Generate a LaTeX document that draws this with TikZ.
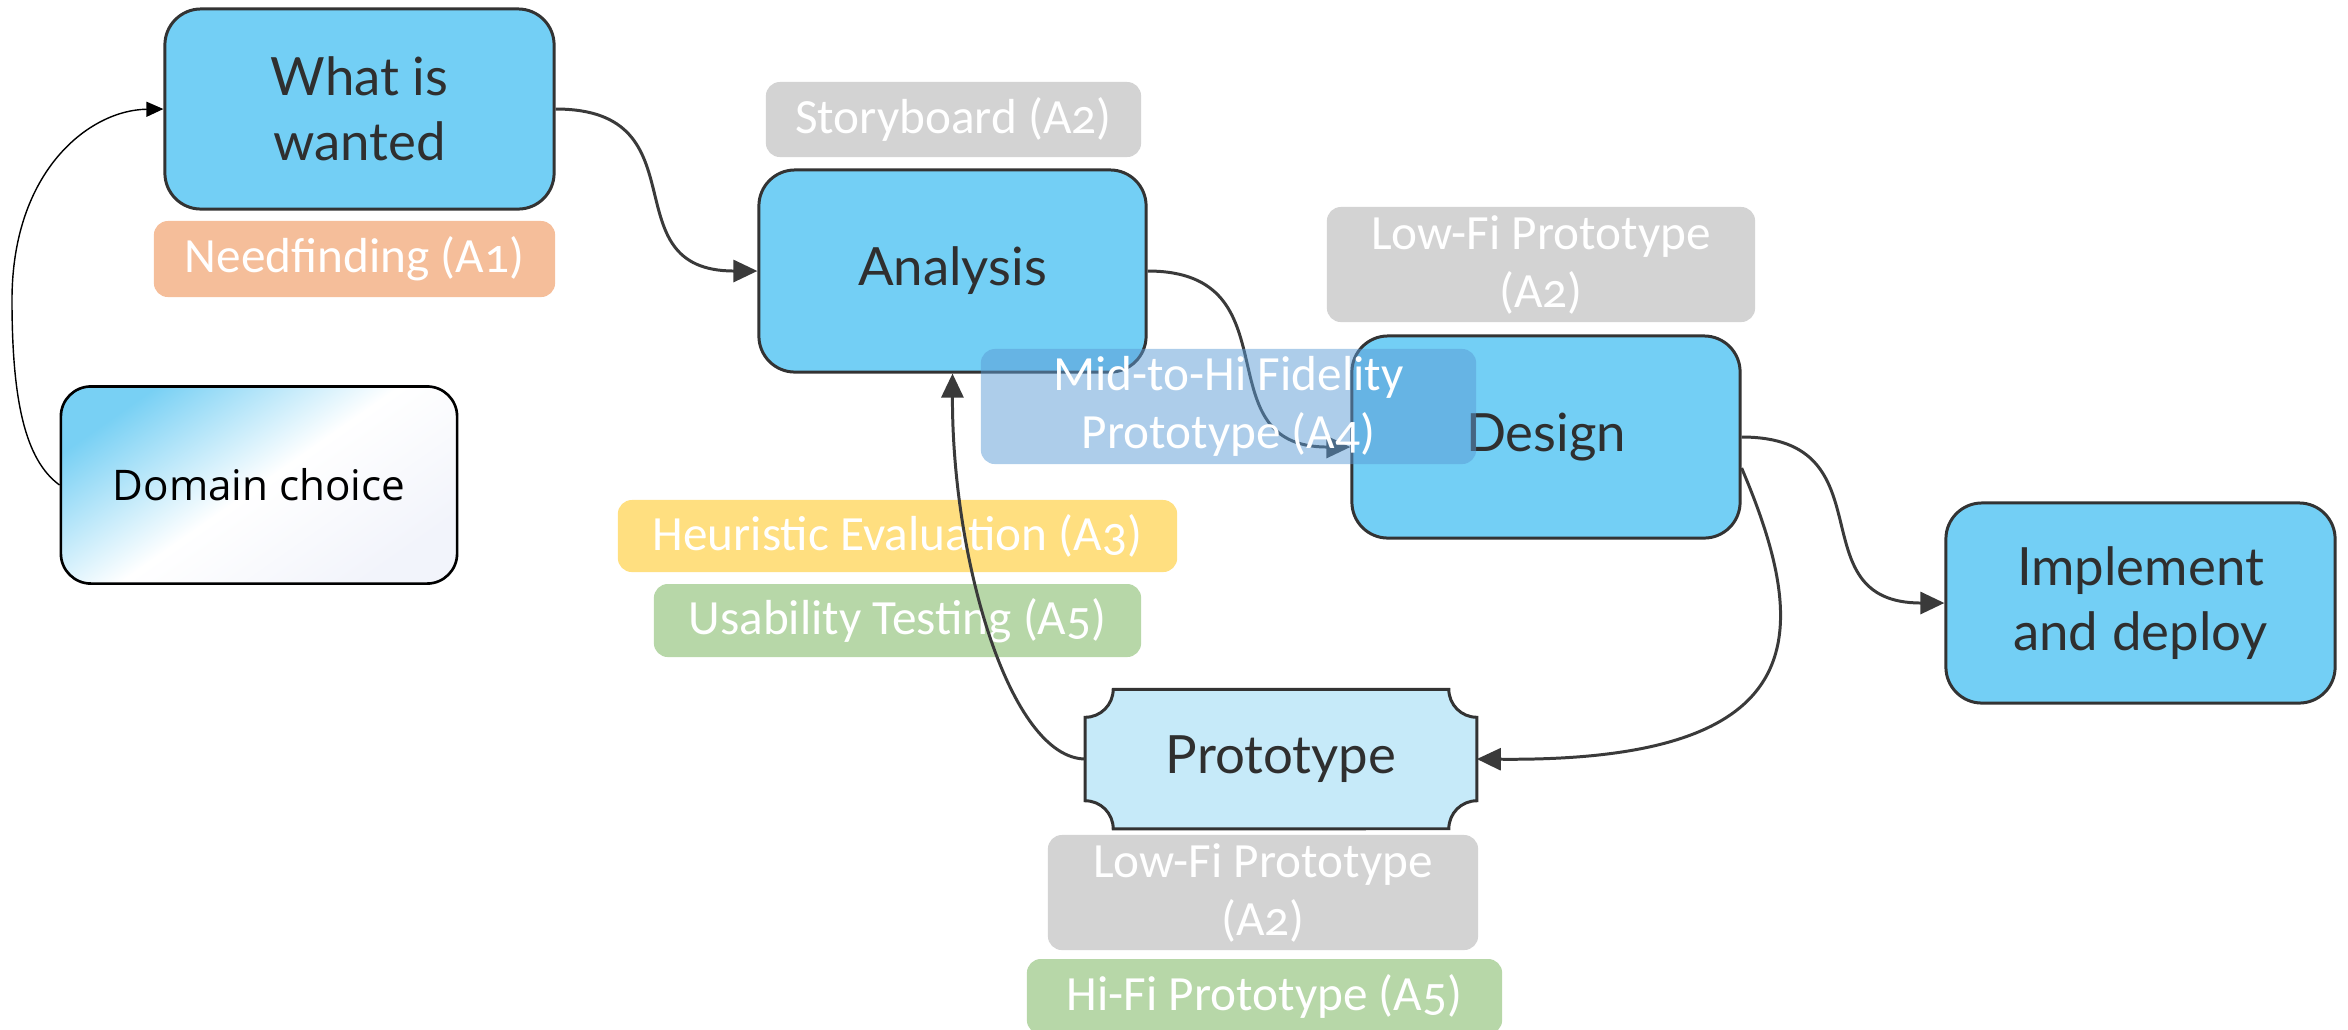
\documentclass[tikz,border=0pt]{standalone}
\usepackage{fontspec}
\usetikzlibrary{arrows.meta,calc,backgrounds}
\newfontfamily\boxfont{Lato}
\newfontfamily\tagfont{Carlito}[Numbers=OldStyle]
\newfontfamily\domainfont{Open Sans}
\definecolor{stageblue}{HTML}{73CFF5}
\definecolor{protoblue}{HTML}{C6EAF9}
\definecolor{edgegray}{HTML}{333333}
\definecolor{linegray}{HTML}{3A3A3A}
\definecolor{textgray}{HTML}{2F2F2F}
\definecolor{tagpeach}{HTML}{F5BE9A}
\definecolor{taggray}{HTML}{D3D3D3}
\definecolor{tagyellow}{HTML}{FFDF80}
\definecolor{taggreen}{HTML}{B7D7A8}
\definecolor{tagblue}{HTML}{5B9BD5}
\definecolor{domtop}{HTML}{78D0F4}
\definecolor{dombottom}{HTML}{F2F4FB}
\tikzset{
  stage/.style={draw=edgegray, line width=0.85pt, fill=stageblue,
    rounded corners=0.36cm, inner sep=0pt, align=center, text=textgray,
    font=\boxfont\fontsize{15}{18.5}\selectfont},
  tag/.style={draw=none, rounded corners=0.14cm, inner sep=0pt, align=center,
    text=white, font=\tagfont\fontsize{14}{16.5}\selectfont},
  flow/.style={draw=linegray, line width=0.85pt,
    -{Triangle[length=0.24cm,width=0.22cm]}},
  thinflow/.style={draw=black, line width=0.4pt,
    -{Triangle[length=0.17cm,width=0.15cm]}},
  domainbox/.style={draw=black, line width=0.75pt, rounded corners=0.3cm,
    inner sep=0pt, top color=domtop, bottom color=dombottom, middle color=white,
    shading angle=35, text=black, font=\domainfont\fontsize{12}{14}\selectfont},
}
\begin{document}
\begin{tikzpicture}[x=0.01cm,y=0.01cm]
\useasboundingbox (0,0) rectangle (2348,-1029);
\clip (0,0) rectangle (2348,-1029);

% process stages
\node[stage, minimum width=3.89cm, minimum height=2.00cm] (ww) at (359.5,-109) {What is\\wanted};
\node[stage, minimum width=3.87cm, minimum height=2.02cm] (ana) at (952.5,-271) {Analysis};
\node[stage, minimum width=3.88cm, minimum height=2.02cm] (des) at (1546,-437) {Design};
\node[stage, minimum width=3.89cm, minimum height=2.00cm] (impl) at (2140.5,-603) {Implement\\and deploy};

% starting point
\node[domainbox, minimum width=3.96cm, minimum height=1.97cm] (dom) at (259,-485) {Domain choice};

% prototype stage with notched corners
\node[inner sep=0pt, text=textgray, font=\boxfont\fontsize{15}{18.5}\selectfont,
      minimum width=3.90cm, minimum height=1.38cm] (proto) at (1281,-759) {Prototype};
\begin{scope}[on background layer]
  \filldraw[draw=edgegray, line width=0.85pt, fill=protoblue]
    ([xshift=0.28cm]proto.north west) -- ([xshift=-0.28cm]proto.north east)
    arc[start angle=180, end angle=270, radius=28]
    -- ([yshift=0.28cm]proto.south east)
    arc[start angle=90, end angle=180, radius=28]
    -- ([xshift=0.28cm]proto.south west)
    arc[start angle=0, end angle=90, radius=28]
    -- ([yshift=-0.28cm]proto.north west)
    arc[start angle=270, end angle=360, radius=28] -- cycle;
\end{scope}

% assignment tags
\node[tag, fill=tagpeach, minimum width=4.01cm, minimum height=0.76cm] (need) at (354.5,-259) {Needfinding (A1)};
\node[tag, fill=taggray, minimum width=3.75cm, minimum height=0.75cm] (story) at (953.5,-119.5) {Storyboard (A2)};
\node[tag, fill=taggray, minimum width=4.28cm, minimum height=1.15cm] (lofia) at (1541,-264.5) {Low-Fi Prototype\\(A2)};
\node[tag, fill=tagyellow, minimum width=5.59cm, minimum height=0.72cm] (heur) at (897.5,-536) {Heuristic Evaluation (A3)};
\node[tag, fill=taggreen, minimum width=4.87cm, minimum height=0.73cm] (usab) at (897.5,-620.5) {Usability Testing (A5)};
\node[tag, fill=taggray, minimum width=4.30cm, minimum height=1.15cm] (lofib) at (1263,-892.5) {Low-Fi Prototype\\(A2)};
\node[tag, fill=taggreen, minimum width=4.75cm, minimum height=0.75cm] (hifi) at (1264.5,-996.5) {Hi-Fi Prototype (A5)};

% flow between stages
\draw[thinflow] (dom.west) .. controls (25,-460) and (12,-400) .. (12,-300)
  .. controls (12,-170) and (90,-110) .. (ww.west);
\draw[flow] (ww.east) .. controls +(150,0) and +(-150,0) .. (ana.west);
\draw[flow] (ana.east) .. controls +(150,0) and +(-150,0) .. ([yshift=-0.1cm]des.west);
\draw[flow] (des.east) .. controls +(150,0) and +(-150,0) .. (impl.west);
\draw[flow] ([yshift=-0.31cm]des.east) .. controls (1815,-640) and (1810,-762) .. (proto.east);
\draw[flow] (proto.west) .. controls (1010,-758) and (952,-560) .. (ana.south);

% translucent tag laid over the flow
\node[tag, fill=tagblue, fill opacity=0.5, text opacity=1,
      minimum width=4.95cm, minimum height=1.15cm] (mid) at (1228.5,-406.5) {Mid-to-Hi Fidelity\\Prototype (A4)};
\end{tikzpicture}
\end{document}
